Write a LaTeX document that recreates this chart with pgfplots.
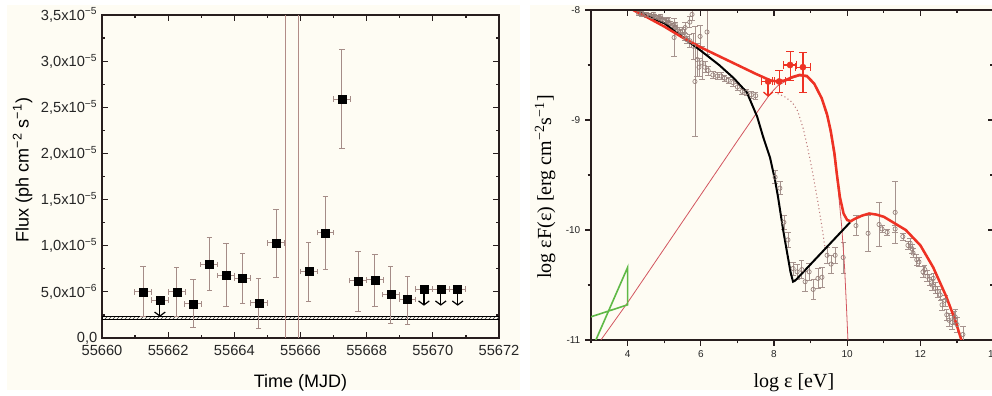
\documentclass[border=0pt]{standalone}
\usepackage{fontspec}
\setmainfont{Liberation Sans}
\newfontfamily\serif{Liberation Serif}
\usepackage{pgfplots}
\usepackage{pgfplotstable}
\pgfplotsset{compat=1.18}
\usetikzlibrary{patterns,arrows.meta}

\definecolor{bg}{RGB}{254,252,243}
\definecolor{errc}{RGB}{165,140,135}
\definecolor{vline}{RGB}{178,140,135}
\definecolor{mred}{RGB}{238,50,36}
\definecolor{tred}{RGB}{210,85,95}
\definecolor{dotc}{RGB}{190,125,125}
\definecolor{gpt}{RGB}{150,128,122}
\definecolor{grn}{RGB}{95,185,70}
\definecolor{axc}{RGB}{40,30,30}

% Left panel: x = MJD - 55660 (days), y in units of 1e-6 ph cm^-2 s^-1
\pgfplotstableread{
x y ex ep em
1.24 5.0 0.25 2.7 2.7
2.26 5.0 0.25 2.6 2.7
2.75 3.7 0.25 2.6 2.6
3.24 8.0 0.25 2.9 2.9
3.75 6.8 0.25 3.4 3.4
4.25 6.5 0.25 2.7 2.8
4.74 3.8 0.25 2.7 2.8
5.26 10.3 0.25 3.6 3.7
6.25 7.2 0.25 3.1 3.2
6.75 11.4 0.25 3.9 4.0
7.25 25.9 0.25 5.4 5.4
7.74 6.2 0.25 3.2 3.3
8.25 6.3 0.25 2.8 2.9
8.73 4.7 0.25 3.0 3.1
9.24 4.2 0.25 2.5 2.7
}\fluxdata

\pgfplotstableread{
x y ex
1.75 4.1 0.25
9.73 5.3 0.25
10.24 5.3 0.25
10.75 5.3 0.25
}\fluxul

% Right panel: grey data (log eps, log eps F, error)
\pgfplotstableread{
x y e
4.30 -8.03 0.02
4.38 -8.035 0.02
4.45 -8.04 0.02
4.52 -8.045 0.02
4.60 -8.05 0.02
4.67 -8.06 0.02
4.74 -8.06 0.02
4.81 -8.07 0.02
4.88 -8.08 0.02
4.95 -8.09 0.02
5.02 -8.10 0.02
5.09 -8.11 0.02
5.16 -8.12 0.02
5.23 -8.14 0.02
5.30 -8.16 0.02
5.37 -8.18 0.02
5.44 -8.20 0.02
4.70 -8.04 0.02
4.90 -8.06 0.02
5.10 -8.09 0.02
5.30 -8.13 0.02
5.50 -8.19 0.03
5.55 -8.24 0.04
5.57 -8.16 0.05
5.62 -8.27 0.03
5.27 -8.25 0.17
5.70 -8.11 0.05
5.76 -8.04 0.05
5.70 -8.28 0.06
5.80 -8.33 0.12
5.84 -8.65 0.50
5.90 -8.45 0.15
5.95 -8.52 0.08
5.98 -8.24 0.10
6.03 -8.48 0.15
6.11 -8.52 0.05
6.17 -8.20 0.20
6.20 -8.55 0.04
6.33 -8.59 0.03
6.45 -8.60 0.03
6.55 -8.60 0.03
6.65 -8.62 0.03
6.75 -8.64 0.03
6.88 -8.66 0.03
7.00 -8.70 0.03
7.13 -8.74 0.03
7.25 -8.75 0.03
7.38 -8.77 0.03
7.50 -8.78 0.03
8.03 -9.52 0.06
8.16 -9.62 0.06
8.27 -9.93 0.06
8.38 -10.09 0.07
8.52 -10.35 0.06
8.63 -10.38 0.07
8.76 -10.36 0.08
8.85 -10.47 0.09
8.96 -10.38 0.08
9.07 -10.54 0.09
9.20 -10.44 0.09
9.31 -10.43 0.09
9.45 -10.23 0.07
9.56 -10.31 0.08
9.67 -10.23 0.07
9.89 -10.25 0.14
10.24 -9.96 0.09
10.57 -10.03 0.16
10.87 -9.95 0.20
10.95 -9.99 0.03
11.09 -10.02 0.03
11.31 -9.84 0.28
11.31 -9.99 0.03
11.52 -10.06 0.03
11.66 -10.14 0.04
11.72 -10.12 0.04
11.77 -10.17 0.04
11.80 -10.21 0.04
11.90 -10.27 0.05
11.96 -10.29 0.04
12.07 -10.38 0.05
12.12 -10.36 0.04
12.18 -10.42 0.05
12.25 -10.45 0.05
12.32 -10.50 0.05
12.35 -10.44 0.05
12.41 -10.53 0.05
12.46 -10.56 0.05
12.54 -10.59 0.05
12.59 -10.68 0.05
12.67 -10.64 0.05
12.72 -10.77 0.05
12.78 -10.82 0.06
12.86 -10.84 0.06
12.92 -10.80 0.06
12.95 -10.79 0.07
13.00 -10.86 0.07
13.16 -10.95 0.07
}\seddata

\pgfplotstableread{
x y ex ep em
8.14 -8.65 0.18 0.10 0.10
8.44 -8.50 0.18 0.12 0.14
8.79 -8.52 0.21 0.13 0.23
}\lat

\pgfplotstableread{
x y
4.15 -8.00
4.50 -8.06
5.00 -8.15
5.50 -8.25
6.00 -8.34
6.50 -8.42
7.00 -8.50
7.50 -8.58
7.90 -8.64
8.10 -8.65
8.30 -8.64
8.50 -8.61
8.70 -8.59
8.90 -8.60
9.10 -8.67
9.30 -8.80
9.45 -8.95
9.55 -9.10
9.65 -9.30
9.72 -9.50
9.80 -9.70
9.90 -9.85
10.00 -9.91
10.10 -9.92
10.20 -9.90
10.40 -9.87
10.60 -9.85
10.80 -9.86
11.00 -9.88
11.30 -9.94
11.60 -10.00
12.00 -10.14
12.35 -10.34
12.70 -10.60
12.95 -10.82
13.12 -11.00
}\totred

\pgfplotstableread{
x y
4.30 -8.02
5.00 -8.12
5.60 -8.27
6.00 -8.37
6.50 -8.50
6.90 -8.62
7.26 -8.75
7.54 -8.97
7.70 -9.15
7.89 -9.34
8.03 -9.55
8.11 -9.70
8.25 -10.00
8.36 -10.21
8.45 -10.38
8.52 -10.47
8.58 -10.46
10.08 -9.93
}\blk

\pgfplotstableread{
x y
3.27 -11.00
4.00 -10.66
5.00 -10.17
6.00 -9.68
7.00 -9.19
7.60 -8.90
7.90 -8.76
8.10 -8.69
8.30 -8.65
8.50 -8.62
8.70 -8.60
8.90 -8.61
9.10 -8.68
9.30 -8.81
9.45 -8.97
9.55 -9.13
9.65 -9.35
9.75 -9.62
9.85 -9.97
9.93 -10.35
9.98 -10.70
10.02 -11.00
}\thin

\pgfplotstableread{
x y
8.10 -8.76
8.30 -8.79
8.50 -8.84
8.65 -8.92
8.80 -9.08
8.93 -9.27
9.04 -9.45
9.12 -9.60
9.20 -9.75
9.30 -9.95
9.39 -10.15
}\dotl

\pgfplotstableread{
x y
2.90 -10.80
4.00 -10.68
4.00 -10.34
2.87 -11.20
}\green

\begin{document}
\begin{tikzpicture}[x=1pt,y=1pt]
\useasboundingbox (0,0) rectangle (744,297);
\fill[bg] (5,4.5) rectangle (390,293);
\fill[bg] (397.5,4.5) rectangle (744,293);

% ---------------- left panel ----------------
\begin{axis}[
  at={(76.5pt,43.5pt)}, anchor=south west, scale only axis,
  width=297.75pt, height=242.25pt,
  xmin=0, xmax=12, ymin=0, ymax=35,
  scaled x ticks=false, scaled y ticks=false,
  tick pos=both, tick align=inside,
  xtick={0,2,...,12},
  xticklabels={55660,55662,55664,55666,55668,55670,55672},
  minor xtick={1,3,...,11},
  ytick={0,5,...,35},
  yticklabels={{0,0},{5,0x10\textsuperscript{−6}},{1,0x10\textsuperscript{−5}},{1,5x10\textsuperscript{−5}},{2,0x10\textsuperscript{−5}},{2,5x10\textsuperscript{−5}},{3,0x10\textsuperscript{−5}},{3,5x10\textsuperscript{−5}}},
  minor ytick={2.5,7.5,...,32.5},
  major tick length=4.5pt, minor tick length=2.5pt,
  tick style={axc, line width=0.9pt},
  axis line style={axc, line width=1pt},
  ticklabel style={font=\fontsize{11}{13}\selectfont, text=black!85},
  xticklabel style={yshift=-2pt},
  xlabel={Time (MJD)}, ylabel={Flux (ph cm\textsuperscript{−2} s\textsuperscript{−1})},
  label style={font=\fontsize{13.5}{16}\selectfont},
  xlabel style={at={(axis description cs:0.5,-0.139)}, anchor=center},
  ylabel style={at={(axis description cs:-0.2,0.52)}, anchor=center},
]
\addplot[draw=black, line width=0.4pt, pattern=north east lines, pattern color=black!80]
  coordinates {(0,2.0) (12,2.0) (12,2.32) (0,2.32)} -- cycle;
\addplot[black, line width=1.1pt] coordinates {(0,2.0) (12,2.0)};
\addplot[vline, line width=0.8pt] coordinates {(5.54,0) (5.54,35)};
\addplot[vline, line width=0.8pt] coordinates {(5.95,0) (5.95,35)};
\addplot[only marks, mark=square*, mark size=3pt, mark options={black},
  error bars/.cd, x dir=both, x explicit, y dir=both, y explicit,
  error bar style={errc, line width=0.7pt},
  error mark options={rotate=90, errc, line width=0.7pt, mark size=2pt}]
  table[x=x, y=y, x error=ex, y error plus=ep, y error minus=em] {\fluxdata};
\addplot[black, line width=0.9pt, mark=none, quiver={u=0, v=-1.8},
  -{Straight Barb[length=3pt, width=8pt]}] table[x=x, y=y] {\fluxul};
\addplot[only marks, mark=square*, mark size=3pt, mark options={black},
  error bars/.cd, x dir=both, x explicit,
  error bar style={errc, line width=0.7pt},
  error mark options={rotate=90, errc, line width=0.7pt, mark size=2pt}]
  table[x=x, y=y, x error=ex] {\fluxul};
\end{axis}

% ---------------- right panel ----------------
\begin{axis}[
  at={(443.25pt,42pt)}, anchor=south west, scale only axis,
  width=301.95pt, height=247.5pt,
  xmin=3, xmax=14, ymin=-11, ymax=-8,
  axis x line*=bottom, axis y line*=left,
  tick align=outside,
  xtick={4,6,...,14}, xticklabels={4,6,8,10,12,14},
  minor xtick={3,5,...,13},
  ytick={-11,-10,-9,-8}, yticklabels={-11,-10,-9,-8},
  minor ytick={-10.5,-9.5,-8.5},
  major tick length=4.5pt, minor tick length=2.5pt,
  tick style={axc, line width=0.9pt},
  axis line style={axc, line width=1pt},
  ticklabel style={font=\fontsize{7.5}{9}\selectfont, text=black!85},
  xlabel={\serif log ε [eV]},
  ylabel={\serif log εF(ε) [erg cm\textsuperscript{−2}s\textsuperscript{−1}]},
  label style={font=\fontsize{15}{18}\selectfont},
  xlabel style={at={(axis description cs:0.504,-0.13)}, anchor=center},
  ylabel style={at={(axis description cs:-0.114,0.464)}, anchor=center},
]
\addplot[only marks, mark=o, mark size=1.6pt, mark options={gpt, fill=bg, line width=0.5pt},
  error bars/.cd, y dir=both, y explicit,
  error bar style={gpt!85, line width=0.5pt},
  error mark options={rotate=90, gpt!85, line width=0.5pt, mark size=2pt}]
  table[x=x, y=y, y error=e] {\seddata};
\addplot[tred, line width=0.6pt, mark=none] table[x=x,y=y] {\thin};
\addplot[dotc, line width=0.8pt, dotted, mark=none] table[x=x,y=y] {\dotl};
\addplot[black, line width=1.5pt, mark=none] table[x=x,y=y] {\blk};
\addplot[mred, line width=1.9pt, mark=none] table[x=x,y=y] {\totred};
\addplot[grn, line width=1.2pt, mark=none] table[x=x,y=y] {\green};
\addplot[only marks, mark=*, mark size=2.3pt, mark options={mred},
  error bars/.cd, x dir=both, x explicit, y dir=both, y explicit,
  error bar style={mred, line width=0.9pt},
  error mark options={rotate=90, mred, line width=0.9pt, mark size=3pt}]
  table[x=x, y=y, x error=ex, y error plus=ep, y error minus=em] {\lat};
\addplot[only marks, mark=*, mark size=2.3pt, mark options={mred},
  error bars/.cd, x dir=both, x explicit,
  error bar style={mred, line width=0.9pt},
  error mark options={rotate=90, mred, line width=0.9pt, mark size=3pt}]
  coordinates {(7.84,-8.65) +- (0.18,0)};
\addplot[mred, line width=1pt, mark=none, quiver={u=0, v=-0.14},
  -{Straight Barb[length=3pt, width=7pt]}] coordinates {(7.84,-8.65)};
\end{axis}
\begin{axis}[
  at={(443.25pt,42pt)}, anchor=south west, scale only axis,
  width=301.95pt, height=247.5pt,
  xmin=3, xmax=14, ymin=-11, ymax=-8,
  axis x line*=top, axis y line*=right,
  tick align=inside,
  xtick={4,6,...,14}, minor xtick={3,5,...,13},
  ytick={-11,-10,-9,-8}, minor ytick={-10.5,-9.5,-8.5},
  xticklabels={}, yticklabels={},
  major tick length=4.5pt, minor tick length=2.5pt,
  tick style={axc, line width=0.9pt},
  axis line style={axc, line width=1pt},
]
\end{axis}
\end{tikzpicture}
\end{document}
